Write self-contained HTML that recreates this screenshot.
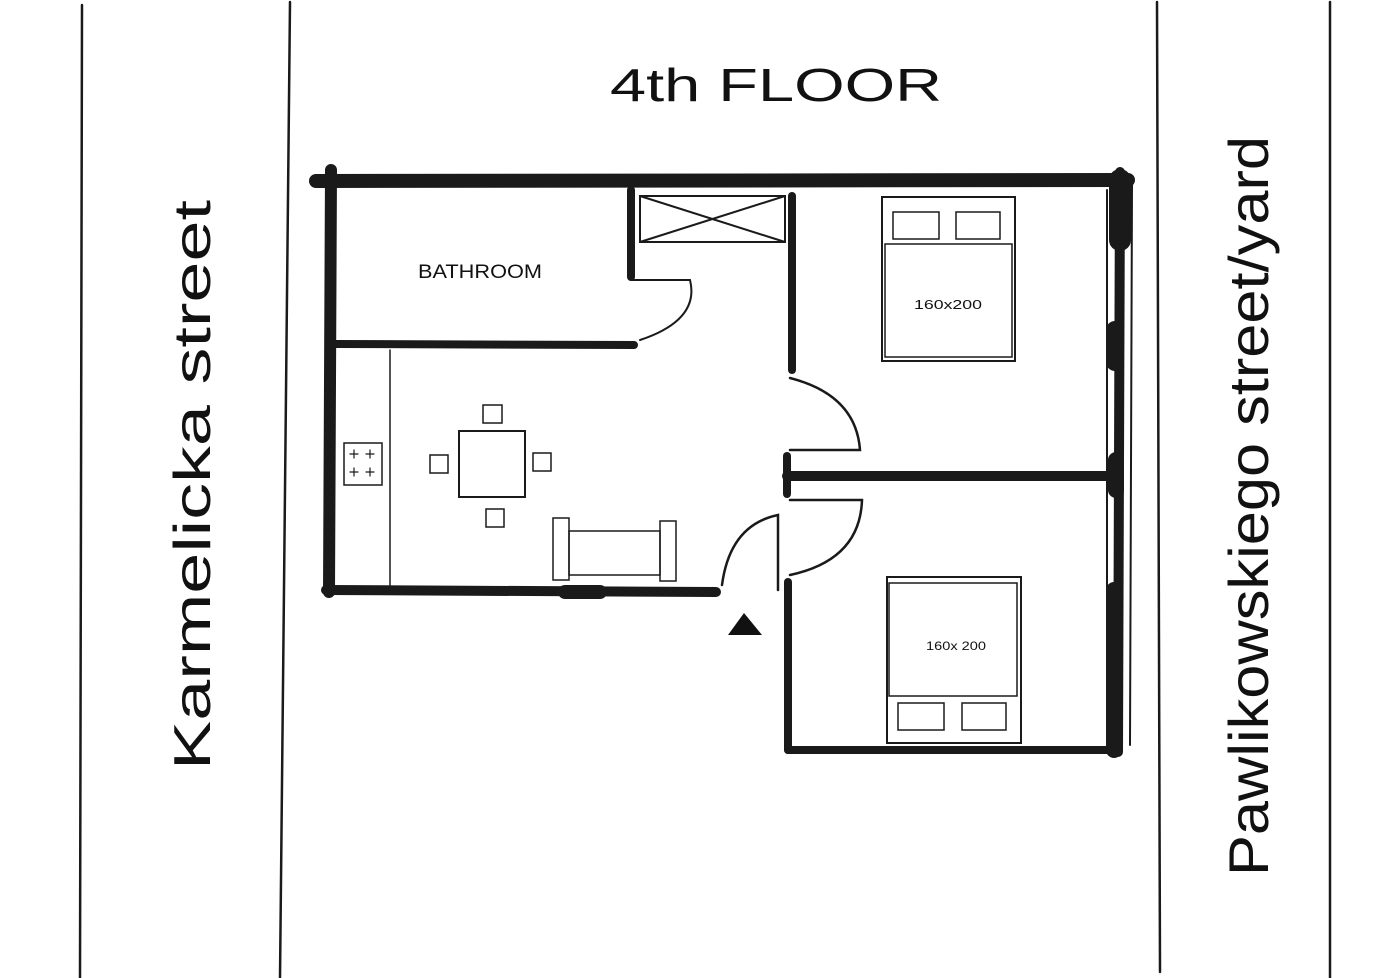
<!DOCTYPE html>
<html><head><meta charset="utf-8"><style>
html,body{margin:0;padding:0;background:#fff;}
svg{display:block}
text{font-family:"Liberation Sans",sans-serif;fill:#111}
</style></head><body>
<svg width="1400" height="978" viewBox="0 0 1400 978" xmlns="http://www.w3.org/2000/svg">
<g stroke="#1a1a1a" fill="none" stroke-linecap="round">
  <line x1="82" y1="5" x2="80" y2="978" stroke-width="2.5"/>
  <line x1="290" y1="2" x2="280" y2="978" stroke-width="2.5"/>
  <line x1="1157" y1="2" x2="1160" y2="972" stroke-width="2.5"/>
  <line x1="1330" y1="2" x2="1330" y2="978" stroke-width="2.5"/>
  <line x1="316" y1="181" x2="1128" y2="180" stroke-width="14"/>
  <line x1="331" y1="170" x2="329" y2="592" stroke-width="12"/>
  <line x1="326" y1="590" x2="716" y2="592" stroke-width="10"/>
  <line x1="565" y1="592" x2="600" y2="592" stroke-width="14"/>
  <line x1="336" y1="344" x2="634" y2="345" stroke-width="8"/>
  <line x1="631" y1="190" x2="631" y2="277" stroke-width="8"/>
  <path d="M631 280 L690 280 Q700 320 640 340" stroke-width="2"/>
  <rect x="640" y="196" width="145" height="46" stroke-width="2"/>
  <line x1="640" y1="196" x2="785" y2="242" stroke-width="2"/>
  <line x1="785" y1="196" x2="640" y2="242" stroke-width="2"/>
  <line x1="792" y1="196" x2="792" y2="370" stroke-width="8"/>
  <path d="M790 378 Q856 395 860 450 L790 450" stroke-width="2.5"/>
  <line x1="787" y1="476" x2="1118" y2="476" stroke-width="10"/>
  <line x1="787" y1="456" x2="787" y2="494" stroke-width="8"/>
  <path d="M790 500 L862 500 Q860 560 790 575" stroke-width="2.5"/>
  <line x1="788" y1="582" x2="788" y2="750" stroke-width="8"/>
  <line x1="788" y1="750" x2="1118" y2="750" stroke-width="8"/>
  <line x1="1120" y1="172" x2="1118" y2="752" stroke-width="10"/>
  <line x1="1107" y1="190" x2="1107" y2="750" stroke-width="2"/>
  <line x1="1132" y1="185" x2="1130" y2="745" stroke-width="2"/>
  <line x1="1120" y1="180" x2="1120" y2="240" stroke-width="22"/>
  <line x1="1115" y1="330" x2="1115" y2="362" stroke-width="18"/>
  <line x1="1116" y1="460" x2="1116" y2="490" stroke-width="16"/>
  <line x1="1114" y1="590" x2="1114" y2="750" stroke-width="16"/>
  <path d="M722 585 Q730 525 778 515 L778 590" stroke-width="2.5"/>
  <line x1="390" y1="350" x2="390" y2="588" stroke-width="1.5"/>
  <rect x="344" y="443" width="38" height="42" stroke-width="1.5"/>
  <g stroke-width="1.2">
    <path d="M350 454h8M354 450v8M366 454h8M370 450v8M350 472h8M354 468v8M366 472h8M370 468v8"/>
  </g>
  <rect x="459" y="431" width="66" height="66" stroke-width="2"/>
  <rect x="483" y="405" width="19" height="18" stroke-width="1.5"/>
  <rect x="430" y="455" width="18" height="18" stroke-width="1.5"/>
  <rect x="533" y="453" width="18" height="18" stroke-width="1.5"/>
  <rect x="486" y="509" width="18" height="18" stroke-width="1.5"/>
  <rect x="553" y="518" width="16" height="62" stroke-width="1.5"/>
  <rect x="660" y="521" width="16" height="60" stroke-width="1.5"/>
  <rect x="569" y="531" width="91" height="44" stroke-width="1.5"/>
  <rect x="882" y="197" width="133" height="164" stroke-width="2"/>
  <rect x="885" y="244" width="127" height="113" stroke-width="1.5"/>
  <rect x="893" y="212" width="46" height="27" stroke-width="1.5"/>
  <rect x="956" y="212" width="44" height="27" stroke-width="1.5"/>
  <rect x="887" y="577" width="134" height="166" stroke-width="2"/>
  <rect x="889" y="583" width="128" height="113" stroke-width="1.5"/>
  <rect x="898" y="703" width="46" height="27" stroke-width="1.5"/>
  <rect x="962" y="703" width="44" height="27" stroke-width="1.5"/>
</g>
<polygon points="744,613 728,635 762,635" fill="#111"/>
<text x="610" y="101" font-size="46" textLength="332" lengthAdjust="spacingAndGlyphs">4th FLOOR</text>
<text x="418" y="278" font-size="19" textLength="124" lengthAdjust="spacingAndGlyphs">BATHROOM</text>
<text x="914" y="309" font-size="13" textLength="68" lengthAdjust="spacingAndGlyphs">160x200</text>
<text x="926" y="650" font-size="12" textLength="60" lengthAdjust="spacingAndGlyphs">160x 200</text>
<text transform="translate(210,770) rotate(-90)" font-size="52" textLength="570" lengthAdjust="spacingAndGlyphs">Karmelicka street</text>
<text transform="translate(1268,876) rotate(-90)" font-size="56" textLength="740" lengthAdjust="spacingAndGlyphs">Pawlikowskiego street/yard</text>
</svg>
</body></html>
